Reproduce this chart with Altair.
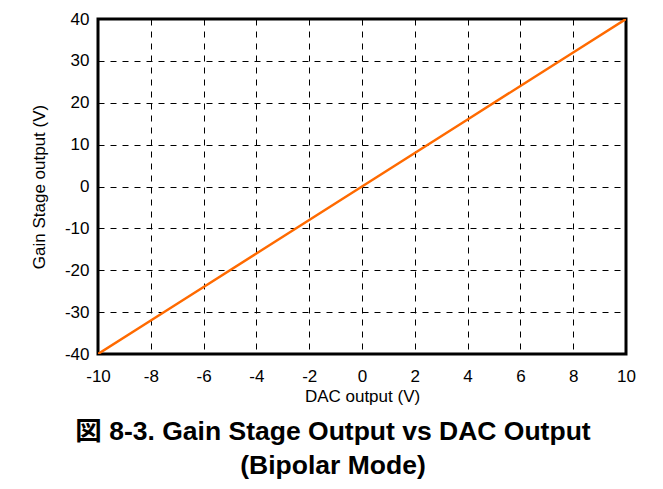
import altair as alt
import pandas as pd

dac = [-10, -8, -6, -4, -2, 0, 2, 4, 6, 8, 10]
gain = [-40, -32, -24, -16, -8, 0, 8, 16, 24, 32, 40]
x_ticks = [-10, -8, -6, -4, -2, 0, 2, 4, 6, 8, 10]
y_ticks = [-40, -30, -20, -10, 0, 10, 20, 30, 40]

df = pd.DataFrame({"dac": dac, "gain": gain})

FONT = "Liberation Sans, Arial, Noto Sans CJK JP"

chart = alt.Chart(df).mark_line(color="#FF6A00", strokeWidth=2.5, clip=True).encode(
    x=alt.X("dac:Q", title="DAC output (V)",
            scale=alt.Scale(domain=[-10, 10], nice=False),
            axis=alt.Axis(values=x_ticks, labelExpr="datum.value + ''",
                          labelFlush=False, labelPadding=14)),
    y=alt.Y("gain:Q", title="Gain Stage output (V)",
            scale=alt.Scale(domain=[-40, 40], nice=False),
            axis=alt.Axis(values=y_ticks, labelExpr="datum.value + ''",
                          labelFlush=False, labelPadding=9)),
).properties(
    width=528, height=335,
    autosize=alt.AutoSizeParams(type="none"),
    padding={"left": 90, "top": 11, "right": 29, "bottom": 127},
    title=alt.TitleParams(
        text=["図 8-3. Gain Stage Output vs DAC Output", "(Bipolar Mode)"],
        orient="bottom", anchor="middle", dx=-29, offset=15,
        font=FONT, fontSize=26.5, fontWeight="bold", color="black", lineHeight=34,
    ),
).configure_view(
    stroke="black", strokeWidth=3,
).configure_axis(
    domain=False, ticks=False, grid=True, gridColor="black", gridDash=[6, 6],
    gridWidth=1, gridOpacity=1,
    labelFont=FONT, labelFontSize=17, labelColor="black",
    titleFont=FONT, titleFontSize=17, titleFontWeight="normal", titleColor="black",
).configure_axisX(titlePadding=4).configure_axisY(titlePadding=16)

chart.save("out.html", embed_options={"renderer": "svg", "actions": False})
